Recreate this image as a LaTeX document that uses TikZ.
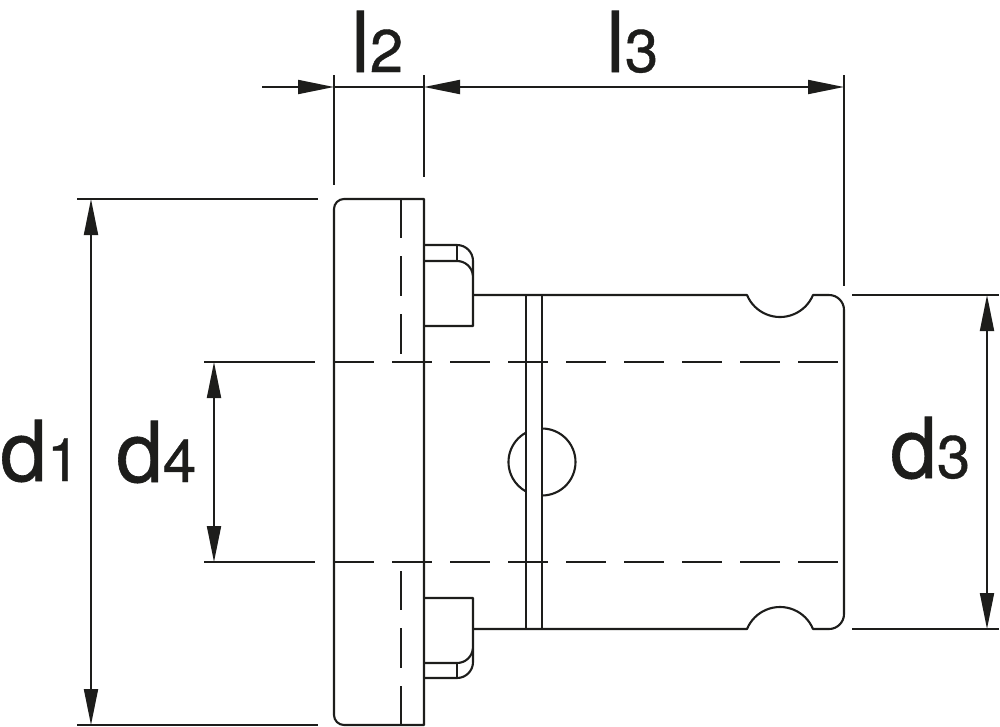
\documentclass[tikz,border=0pt]{standalone}
\usepackage{fontspec}
\setmainfont{TeX Gyre Heros}
\newfontfamily\labfont[FakeBold=0.7]{TeX Gyre Heros}
\usetikzlibrary{arrows.meta}
\definecolor{ink}{HTML}{1D1D1B}
\newcommand{\dimlabel}[2]{{\labfont\fontsize{84}{84}\selectfont #1}{\labfont\fontsize{60}{60}\selectfont #2}}
\tikzset{
  part/.style={draw=ink,line width=2.1pt,line join=round},
  hidden/.style={draw=ink,line width=2.1pt,dash pattern=on 40pt off 18pt},
  extline/.style={draw=ink,line width=1.9pt},
  dimline/.style={draw=ink,line width=1.9pt},
  tip/.style={{Triangle[length=36pt,width=14pt]}-{Triangle[length=36pt,width=14pt]}},
  endtip/.style={-{Triangle[length=36pt,width=14pt]}},
  label/.style={anchor=base west,inner sep=0pt,text=ink},
}
\begin{document}
\begin{tikzpicture}[x=1pt,y=-1pt]
\useasboundingbox (0,0) rectangle (1000,726);
% named points of the dimension lines
\coordinate (a0) at (262,87);
\coordinate (a1) at (334,87);
\coordinate (a2) at (424,87);
\coordinate (a3) at (844,87);
\coordinate (d1t) at (91,199);
\coordinate (d1b) at (91,725);
\coordinate (d4t) at (214,362);
\coordinate (d4b) at (214,562);
\coordinate (d3t) at (987,295);
\coordinate (d3b) at (987,629);
% flange
\draw[part] (334,209) arc[start angle=180,end angle=90,radius=10pt] -- (424,199) -- (424,725) -- (344,725) arc[start angle=270,end angle=180,radius=10pt] -- cycle;
% flange axis
\draw[part] (401,199) -- (401,238) (401,256) -- (401,296) (401,314) -- (401,354);
\draw[part] (401,571) -- (401,610) (401,628) -- (401,668) (401,686) -- (401,725);
% upper bolt
\draw[part] (424,245) -- (457,245) arc[start angle=90,end angle=0,radius=16pt] -- (473,326) -- (424,326);
\draw[part] (424,261) -- (457,261) arc[start angle=90,end angle=5,radius=16pt];
\draw[part] (457,245) -- (457,261);
% lower bolt
\draw[part] (424,678) -- (457,678) arc[start angle=270,end angle=360,radius=16pt] -- (473,598) -- (424,598);
\draw[part] (424,663) -- (457,663) arc[start angle=270,end angle=355,radius=16pt];
\draw[part] (457,663) -- (457,678);
% shaft with grooves
\draw[part] (473,295) -- (747,295) arc[start angle=202.6,end angle=337.4,radius=35.75pt] -- (829,295) arc[start angle=90,end angle=0,radius=15pt] -- (844,614) arc[start angle=0,end angle=-90,radius=15pt] -- (813,629) arc[start angle=22.6,end angle=157.4,radius=35.75pt] -- (473,629);
% ring
\draw[part] (526,295) -- (526,629) (542,295) -- (542,629);
% cross hole
\draw[part] (542,428.5) arc[start angle=90,end angle=-90,radius=33.5pt];
\draw[part] (526,432.6) arc[start angle=118.5,end angle=241.5,radius=33.5pt];
% bore
\draw[hidden] (334,362) -- (838,362);
\draw[hidden] (334,562) -- (838,562);
% extension lines
\draw[extline] (334,75) -- (334,185);
\draw[extline] (424,75) -- (424,177);
\draw[extline] (844,75) -- (844,286);
\draw[extline] (77,199) -- (318,199);
\draw[extline] (77,725) -- (318,725);
\draw[extline] (204,362) -- (315,362);
\draw[extline] (204,562) -- (315,562);
\draw[extline] (852,295) -- (999,295);
\draw[extline] (852,629) -- (999,629);
% dimension lines
\draw[dimline,endtip] (a0) -- (a1);
\draw[dimline] (a1) -- (a2);
\draw[dimline,tip] (a2) -- (a3);
\draw[dimline,tip] (d1t) -- (d1b);
\draw[dimline,tip] (d4t) -- (d4b);
\draw[dimline,tip] (d3t) -- (d3b);
% labels
\node[label] (l2) at (351,72) {\dimlabel{l}{2}};
\node[label] (l3) at (606,72) {\dimlabel{l}{3}};
\node[label] (d1) at (0,481) {\dimlabel{d}{1}};
\node[label] (d4) at (116,482) {\dimlabel{d}{4}};
\node[label] (d3) at (890,478) {\dimlabel{d}{3}};
\end{tikzpicture}
\end{document}
